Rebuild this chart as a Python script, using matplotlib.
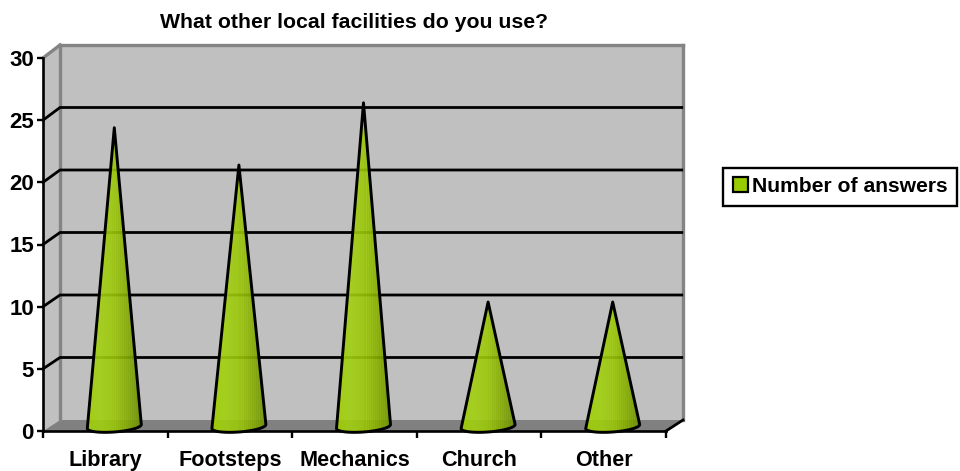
import numpy as np
import matplotlib
matplotlib.use('Agg')
import matplotlib.pyplot as plt
from matplotlib.colors import LinearSegmentedColormap
from matplotlib.patches import Patch, Polygon

plt.rcParams['font.family'] = ['Liberation Sans', 'DejaVu Sans']
plt.rcParams['font.weight'] = 'bold'

categories = ['Library', 'Footsteps', 'Mechanics', 'Church', 'Other']
answers = [24, 21, 26, 10, 10]
y_ticks = [0, 5, 10, 15, 20, 25, 30]
series_name = 'Number of answers'
title = 'What other local facilities do you use?'

W, H = 960, 471
fig = plt.figure(figsize=(W / 100, H / 100), dpi=100)
ax = fig.add_axes([43 / W, (H - 431) / H, (666 - 43) / W, (431 - 58) / H])
ax.set_xlim(0, len(categories))
ax.set_ylim(0, 30)
ax.patch.set_visible(False)

# pixel sizes to data units
px_x = len(categories) / (666 - 43)
px_y = 30 / (431 - 58)
dx = 17 * px_x


def back(v):
    # height on the back wall for value v
    return (11 + v * 12.5) * px_y


right = len(categories)
# walls and floor
ax.add_patch(Polygon([(0, 0), (dx, back(0)), (dx, back(30)), (0, 30)], closed=True,
                     fc='#c0c0c0', ec='none', zorder=1, clip_on=False))
ax.add_patch(Polygon([(dx, back(0)), (right + dx, back(0)), (right + dx, back(30)), (dx, back(30))],
                     closed=True, fc='#c0c0c0', ec='none', zorder=1, clip_on=False))
ax.add_patch(Polygon([(0, 0), (dx, back(0)), (right + dx, back(0)), (right, 0)], closed=True,
                     fc='#808080', ec='none', zorder=1, clip_on=False))

# wall edges
edge = dict(color='#848484', lw=2.4, zorder=1.5, clip_on=False, solid_capstyle='projecting')
ax.plot([dx, dx], [back(0), back(30)], **edge)
ax.plot([right + dx, right + dx], [back(0), back(30)], **edge)
ax.plot([dx, right + dx], [back(30), back(30)], **edge)
ax.plot([0, dx], [30, back(30)], **edge)

# grid on walls
for v in y_ticks[1:-1]:
    ax.plot([0, dx, right + dx - 0.01], [v, back(v), back(v)], color='black', lw=2.0, zorder=2, clip_on=False)
ax.plot([right, right + dx], [0, back(0)], color='black', lw=2.0, zorder=2, clip_on=False)

# cones
cone_cmap = LinearSegmentedColormap.from_list('cone', ['#a0d000', '#a2d010', '#9cc808', '#86ae00', '#6c9000'])
t = np.linspace(np.pi, 2 * np.pi, 40)
half_w = 27 * px_x
for i, v in enumerate(answers):
    cx = i + 0.5 + 9 * px_x
    base_x = cx + half_w * np.cos(t)
    base_y = (4.5 + 5.5 * np.sin(t) + 2 * np.cos(t)) * px_y
    top = (v * 12.45 + 4.5) * px_y
    outline = np.column_stack([np.r_[cx, base_x], np.r_[top, base_y]])
    cone = Polygon(outline, closed=True, fc='none', ec='black', lw=2.1, joinstyle='round',
                   zorder=4, clip_on=False)
    ax.add_patch(cone)
    shade = np.linspace(0, 1, 54) + 0.03 * np.where(np.arange(54) % 2, 1, -1)
    im = ax.imshow(shade[None, :], cmap=cone_cmap, vmin=0, vmax=1, aspect='auto', zorder=3, alpha=0.9,
                   extent=[cx - half_w, cx + half_w, base_y.min(), top], interpolation='nearest')
    fill = Polygon(outline, closed=True, transform=ax.transData)
    im.set_clip_path(fill)
    im.set_clip_box(None)
ax.set_xlim(0, len(categories))
ax.set_ylim(0, 30)

# axes
for s in ['top', 'right']:
    ax.spines[s].set_visible(False)
for s in ['left', 'bottom']:
    ax.spines[s].set_linewidth(1.9)
    ax.spines[s].set_zorder(2.5)
ax.set_yticks(y_ticks)
ax.set_xticks(np.arange(len(categories) + 1))
ax.set_xticklabels([])
ax.set_xticks(np.arange(len(categories)) + 0.5, labels=categories, minor=True)
ax.tick_params(axis='y', length=4.5, width=1.7, labelsize=16, pad=2)
ax.tick_params(axis='x', which='major', length=5, width=1.7)
ax.tick_params(axis='x', which='minor', length=0, labelsize=15.6, pad=14)

fig.text(354 / W, (H - 22) / H, title, ha='center', va='center', fontsize=15.3, fontweight='bold')

leg = ax.legend(handles=[Patch(fc='#99cc00', ec='black', lw=1.6, label=series_name)],
                loc='center left', bbox_to_anchor=(723 / W, (H - 186.5) / H),
                bbox_transform=fig.transFigure, fontsize=15.2, fancybox=False, framealpha=1,
                edgecolor='black', handlelength=0.75, handleheight=0.72, handletextpad=0.15,
                borderpad=0.45, borderaxespad=0)
leg.get_frame().set_linewidth(1.7)

fig.savefig('out.png', dpi=100)
